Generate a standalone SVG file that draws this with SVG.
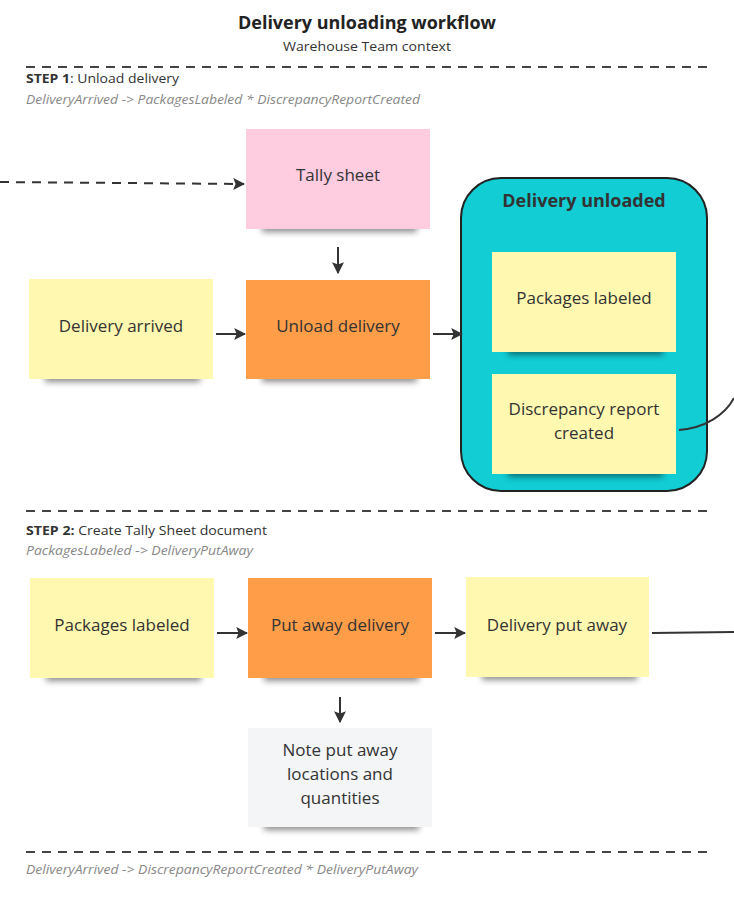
<svg xmlns="http://www.w3.org/2000/svg" width="734" height="899" viewBox="0 0 734 899">
<style>
text{font-family:"Open Sans","Noto Sans","Liberation Sans",sans-serif;fill:#333}
.title{font-size:17px;font-weight:700;text-anchor:middle;fill:#222}
.sub{font-size:13px;text-anchor:middle;fill:#333}
.step{font-size:13px;fill:#333}
.flow{font-size:13px;font-style:italic;fill:#888}
.lbl{font-size:17px;text-anchor:middle;fill:#333}
.sep{stroke:#444;stroke-width:2;stroke-dasharray:9 7;fill:none}
.conn{stroke:#333;stroke-width:2;fill:none}
.yellow{fill:#FFF8B0}
.orange{fill:#FF9D48}
.pink{fill:#FFCCE0}
.gray{fill:#F4F5F7}
.shadow{fill:#000;opacity:0.45;filter:url(#blur)}
</style>
<defs>
<filter id="blur" x="-20%" y="-100%" width="140%" height="300%"><feGaussianBlur stdDeviation="3"/></filter>
<marker id="arr" viewBox="0 0 10 10" refX="9" refY="5" markerWidth="6" markerHeight="6" orient="auto" markerUnits="strokeWidth">
<path d="M0,0 L10,5 L0,10 L2,5 Z" fill="#333"/>
</marker>
</defs>
<rect width="734" height="899" fill="#fff"/>

<text class="title" x="367" y="29" textLength="258" lengthAdjust="spacingAndGlyphs">Delivery unloading workflow</text>
<text class="sub" x="367" y="51" textLength="168" lengthAdjust="spacingAndGlyphs">Warehouse Team context</text>

<line class="sep" x1="26" y1="67" x2="708" y2="67"/>
<text class="step" x="26" y="83" textLength="153" lengthAdjust="spacingAndGlyphs"><tspan font-weight="700">STEP 1</tspan>: Unload delivery</text>
<text class="flow" x="26" y="104" textLength="394" lengthAdjust="spacingAndGlyphs">DeliveryArrived -&gt; PackagesLabeled * DiscrepancyReportCreated</text>

<line class="sep" x1="26" y1="511" x2="708" y2="511"/>
<text class="step" x="26" y="535" textLength="241" lengthAdjust="spacingAndGlyphs"><tspan font-weight="700">STEP 2:</tspan> Create Tally Sheet document</text>
<text class="flow" x="26" y="555" textLength="227" lengthAdjust="spacingAndGlyphs">PackagesLabeled -&gt; DeliveryPutAway</text>

<line class="sep" x1="26" y1="852" x2="708" y2="852"/>
<text class="flow" x="26" y="874" textLength="392" lengthAdjust="spacingAndGlyphs">DeliveryArrived -&gt; DiscrepancyReportCreated * DeliveryPutAway</text>

<g id="group-delivery-unloaded">
<rect x="461" y="178" width="246" height="313" rx="40" fill="#12CDD4" stroke="#222" stroke-width="2"/>
<text x="584" y="207" font-size="18" font-weight="700" text-anchor="middle" fill="#222">Delivery unloaded</text>
</g>

<g id="connectors">
<line class="conn" x1="0" y1="182" x2="244" y2="184" stroke-dasharray="9 7" marker-end="url(#arr)"/>
<line class="conn" x1="338" y1="247" x2="338" y2="273" marker-end="url(#arr)"/>
<line class="conn" x1="216" y1="334" x2="245" y2="334" marker-end="url(#arr)"/>
<line class="conn" x1="433" y1="334" x2="462" y2="334" marker-end="url(#arr)"/>
<path class="conn" d="M679,430 C705,428 725,415 734,398" stroke-width="1.5"/>
<line class="conn" x1="217" y1="633" x2="247" y2="633" marker-end="url(#arr)"/>
<line class="conn" x1="435" y1="633" x2="465" y2="633" marker-end="url(#arr)"/>
<line class="conn" x1="652" y1="633" x2="734" y2="632"/>
<line class="conn" x1="340" y1="697" x2="340" y2="722" marker-end="url(#arr)"/>
</g>

<g id="tally-sheet">
<rect class="shadow" x="262" y="222" width="155" height="10"/>
<rect class="pink" x="246" y="129" width="184" height="100"/>
<text class="lbl" x="338" y="181">Tally sheet</text>
</g>

<g id="delivery-arrived">
<rect class="shadow" x="45" y="372" width="155" height="10"/>
<rect class="yellow" x="29" y="279" width="184" height="100"/>
<text class="lbl" x="121" y="332">Delivery arrived</text>
</g>

<g id="unload-delivery">
<rect class="shadow" x="262" y="372" width="155" height="10"/>
<rect class="orange" x="246" y="280" width="184" height="99"/>
<text class="lbl" x="338" y="332">Unload delivery</text>
</g>

<g id="packages-labeled-1">
<rect class="shadow" x="508" y="345" width="155" height="10"/>
<rect class="yellow" x="492" y="252" width="184" height="100"/>
<text class="lbl" x="584" y="304">Packages labeled</text>
</g>

<g id="discrepancy-report-created">
<rect class="shadow" x="508" y="467" width="155" height="10"/>
<rect class="yellow" x="492" y="374" width="184" height="100"/>
<text class="lbl" x="584" y="415">Discrepancy report</text>
<text class="lbl" x="584" y="439">created</text>
</g>

<g id="packages-labeled-2">
<rect class="shadow" x="46" y="671" width="155" height="10"/>
<rect class="yellow" x="30" y="578" width="184" height="100"/>
<text class="lbl" x="122" y="631">Packages labeled</text>
</g>

<g id="put-away-delivery">
<rect class="shadow" x="264" y="671" width="155" height="10"/>
<rect class="orange" x="248" y="578" width="184" height="100"/>
<text class="lbl" x="340" y="631">Put away delivery</text>
</g>

<g id="delivery-put-away">
<rect class="shadow" x="482" y="670" width="155" height="10"/>
<rect class="yellow" x="466" y="577" width="183" height="100"/>
<text class="lbl" x="557" y="631">Delivery put away</text>
</g>

<g id="note-put-away">
<rect class="shadow" x="264" y="820" width="155" height="10"/>
<rect class="gray" x="248" y="728" width="184" height="99"/>
<text class="lbl" x="340" y="756">Note put away</text>
<text class="lbl" x="340" y="780">locations and</text>
<text class="lbl" x="340" y="804">quantities</text>
</g>
</svg>
